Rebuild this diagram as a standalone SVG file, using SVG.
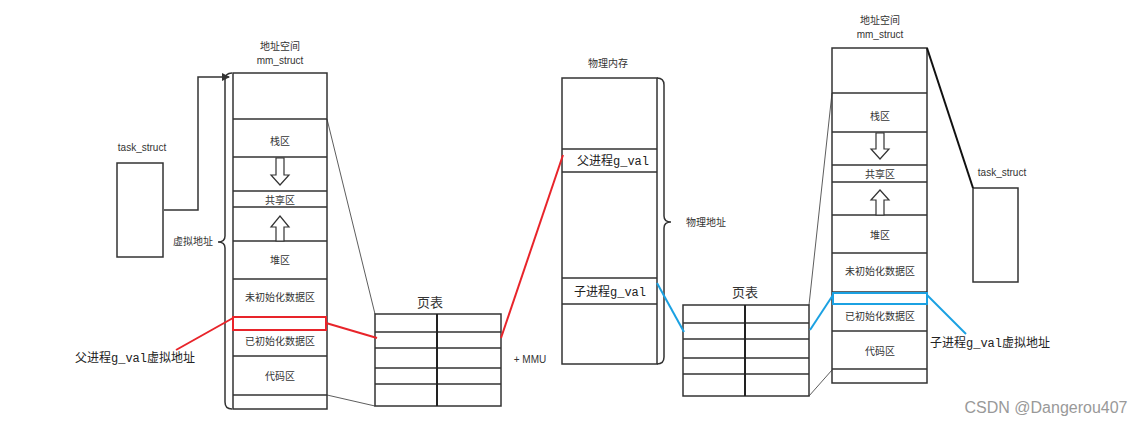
<svg xmlns="http://www.w3.org/2000/svg" width="1143" height="426" viewBox="0 0 1143 426">
<defs>
<style>
.box{fill:#fff;stroke:#333;stroke-width:1.5}
.ln{fill:none;stroke:#333;stroke-width:1.5}
.thin{fill:none;stroke:#333;stroke-width:0.8}
.red{fill:none;stroke:#e8242a;stroke-width:2}
.blue{fill:none;stroke:#1ba1e2;stroke-width:2}
.arr{fill:#fff;stroke:#333;stroke-width:1.2}
.t{font-family:"Noto Sans CJK SC",sans-serif;font-size:10px;fill:#333;text-anchor:middle}
.tl{font-family:"Liberation Sans",sans-serif;font-size:10px;fill:#333;text-anchor:middle}
.big{font-family:"Liberation Mono","Noto Sans CJK SC",monospace;font-size:12px;fill:#222}
.pt{font-family:"Noto Sans CJK SC",sans-serif;font-size:13px;fill:#333;text-anchor:middle}
</style>
<marker id="ah" markerWidth="8" markerHeight="8" refX="7" refY="4" orient="auto" markerUnits="userSpaceOnUse">
<path d="M0,0 L8,4 L0,8 z" fill="#333"/>
</marker>
</defs>
<rect width="1143" height="426" fill="#fff"/>

<g id="left-task">
<rect class="box" x="117" y="163" width="46" height="94"/>
<text class="tl" x="142" y="151">task_struct</text>
</g>

<g id="left-mm">
<text class="t" x="280" y="50">地址空间</text>
<text class="tl" x="280" y="64">mm_struct</text>
<rect class="box" x="233" y="73" width="94" height="336"/>
<path class="ln" d="M233,119H327M233,157H327M233,191H327M233,207H327M233,241H327M233,279H327M233,317H327M233,356H327M233,395H327"/>
<text class="t" x="280" y="145">栈区</text>
<path class="arr" d="M276,158V175H271L280,185L289,175H284V158Z"/>
<text class="t" x="280" y="204">共享区</text>
<path class="arr" d="M276,241V227H271L280,216L289,227H284V241Z"/>
<text class="t" x="280" y="264">堆区</text>
<text class="t" x="280" y="301">未初始化数据区</text>
<text class="t" x="280" y="345">已初始化数据区</text>
<text class="t" x="280" y="380">代码区</text>
<rect x="233" y="317" width="93" height="13" fill="none" stroke="#e8242a" stroke-width="2"/>
<path class="ln" d="M232,73Q225,73 225,80V236Q225,242 218,242Q225,242 225,248V402Q225,409 232,409"/>
<text class="t" x="193" y="245">虚拟地址</text>
</g>

<g id="pt1">
<text class="pt" x="430" y="307">页表</text>
<rect class="box" x="375" y="314" width="126" height="92"/>
<path class="ln" d="M375,332H501M375,348H501M375,368H501M375,384H501"/>
<path d="M437,314V406" stroke="#222" stroke-width="2"/>
<text class="tl" x="530" y="363" font-size="11">+ MMU</text>
</g>

<g id="phys">
<text class="t" x="608" y="67">物理内存</text>
<rect class="box" x="562" y="78" width="95" height="286"/>
<path class="ln" d="M562,149H657M562,172H657M562,278H657M562,304H657"/>
<text class="big" x="577" y="165">父进程g_val</text>
<text class="big" x="574" y="296">子进程g_val</text>
<path class="ln" d="M657,78Q664,78 664,85V216Q664,222 671,222Q664,222 664,228V357Q664,364 657,364"/>
<text class="t" x="706" y="226">物理地址</text>
</g>

<g id="pt2">
<text class="pt" x="745" y="297">页表</text>
<rect class="box" x="683" y="305" width="126" height="91"/>
<path class="ln" d="M683,323H809M683,339H809M683,358H809M683,374H809"/>
<path d="M745,305V396" stroke="#222" stroke-width="2"/>
</g>

<g id="right-mm">
<text class="t" x="880" y="24">地址空间</text>
<text class="tl" x="880" y="38">mm_struct</text>
<rect class="box" x="832" y="48" width="95" height="335"/>
<path class="ln" d="M832,93H927M832,132H927M832,165H927M832,182H927M832,215H927M832,253H927M832,292H927M832,331H927M832,369H927"/>
<text class="t" x="880" y="120">栈区</text>
<path class="arr" d="M876,133V149H871L880,159L889,149H884V133Z"/>
<text class="t" x="880" y="178">共享区</text>
<path class="arr" d="M876,215V200H871L880,190L889,200H884V215Z"/>
<text class="t" x="880" y="239">堆区</text>
<text class="t" x="880" y="275">未初始化数据区</text>
<text class="t" x="880" y="320">已初始化数据区</text>
<text class="t" x="880" y="355">代码区</text>
<rect x="833" y="293" width="94" height="11" fill="none" stroke="#1ba1e2" stroke-width="2"/>
</g>

<g id="right-task">
<rect class="box" x="973" y="188" width="45" height="94"/>
<text class="tl" x="1002" y="176">task_struct</text>
</g>

<g id="labels">
<text class="big" x="75" y="362">父进程g_val虚拟地址</text>
<text class="big" x="930" y="347">子进程g_val虚拟地址</text>
<text x="1046" y="413" font-family="Liberation Sans,sans-serif" font-size="16" fill="#999" text-anchor="middle">CSDN @Dangerou407</text>
</g>

<g id="connectors">
<path class="ln" d="M164,210H198V77H229" marker-end="url(#ah)"/>
<path class="thin" d="M327,119L375,314"/>
<path class="thin" d="M327,395L375,406"/>
<path class="thin" d="M832,93L809,305"/>
<path class="thin" d="M832,370L809,396"/>
<path d="M927,48L973,188" stroke="#111" stroke-width="2" fill="none"/>
<path class="red" d="M233,318L176,350"/>
<path class="red" d="M326,323L377,338"/>
<path class="red" d="M501,338L563,155"/>
<path class="blue" d="M657,283L684,332"/>
<path class="blue" d="M810,330L833,295"/>
<path class="blue" d="M927,295L966,334"/>
</g>
</svg>
